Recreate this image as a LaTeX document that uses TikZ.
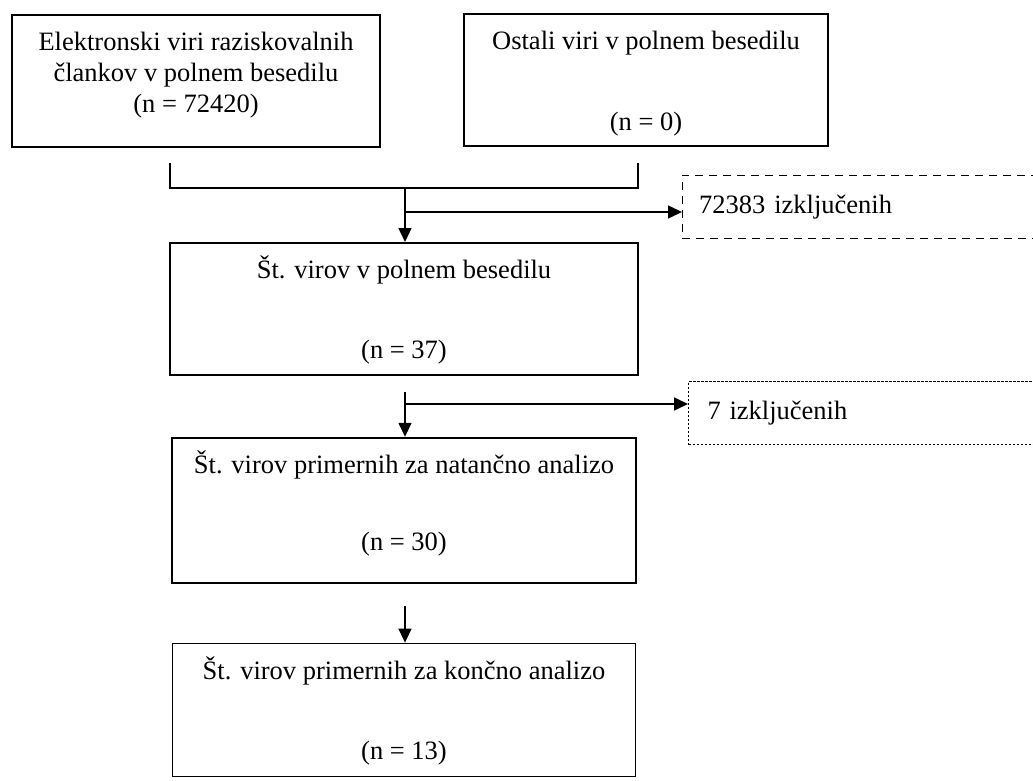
\documentclass[tikz,border=0pt]{standalone}
\usepackage{fontspec}
\setmainfont{Liberation Serif}
\usepackage{tikz}
\usetikzlibrary{positioning, arrows.meta}
\newcommand{\strtop}{\rule{0pt}{36pt}}
\newcommand{\strbot}[1]{\rule[-#1]{0pt}{0pt}}
\tikzset{
	node distance = 62pt,
	line width = 1.5pt,
	>={Triangle[length=14pt, width=13pt]},
	font = \fontsize{26.5pt}{31pt}\selectfont,
	stagebox/.style={
		draw,
		rectangle,
		line width=1.8pt,
		anchor=north,
		align=center,
		inner xsep=0pt,
		inner ysep=0pt
	},
	exclbox/.style={
		draw,
		rectangle,
		anchor=north west,
		align=left,
		minimum height=63pt,
		inner xsep=17pt,
		inner ysep=0pt,
		text width=330pt
	},
	edge/.style={
		->,
		line width=1.5pt
	},
	joinline/.style={
		line width=1.5pt
	}
}

\begin{document}
\begin{tikzpicture}[x=1pt, y=-1pt]
	\useasboundingbox (0,0) rectangle (1033,781);
	\clip (0,0) rectangle (1033,781);

	\node[stagebox, minimum width=368pt] (srcdb) at (196,14) {\strtop Elektronski viri raziskovalnih\\člankov v polnem besedilu\\(n = 72420)\strbot{34pt}};
	\node[stagebox, minimum width=364pt] (srcother) at (646,13) {\strtop Ostali viri v polnem besedilu\\[50pt](n = 0)\strbot{15pt}};

	\node[stagebox, minimum width=468pt] (fulltext) at (404,242) {\strtop Št. virov v polnem besedilu\\[49pt](n = 37)\strbot{16pt}};
	\node[stagebox, minimum width=464pt, below=61pt of fulltext] (detailed) {\strtop Št. virov primernih za natančno analizo\\[46pt](n = 30)\strbot{32pt}};
	\node[stagebox, minimum width=463pt, below=59pt of detailed] (final) {\strtop Št. virov primernih za končno analizo\\[49pt](n = 13)\strbot{17pt}};

	\node[exclbox, dash pattern=on 8pt off 6pt] (excl1) at (682,175) {72383 izključenih};
	\node[exclbox, dash pattern=on 2.5pt off 1.5pt, line width=1pt, inner xsep=19pt] (excl2) at (688,381) {7 izključenih};

	\coordinate (mergeL) at (170,163);
	\coordinate (mergeR) at (638,163);
	\coordinate (mergeM) at (405,188);
	\draw[joinline] (mergeL) |- (mergeM) -| (mergeR);

	\draw[edge] (mergeM) -- (mergeM |- fulltext.north);
	\coordinate (split1) at (405,212);
	\draw[edge] (split1) -- (split1 -| excl1.west);

	\coordinate (drop2) at (405,392);
	\draw[edge] (drop2) -- (drop2 |- detailed.north);
	\coordinate (split2) at (405,404);
	\draw[edge] (split2) -- (split2 -| excl2.west);

	\coordinate (drop3) at (405,606);
	\draw[edge] (drop3) -- (drop3 |- final.north);
\end{tikzpicture}
\end{document}
